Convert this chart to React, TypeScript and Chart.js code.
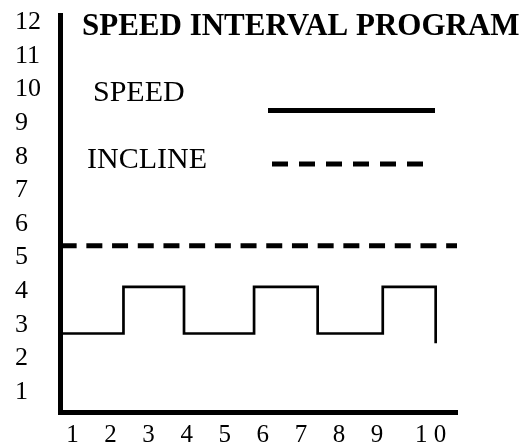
import React, { useEffect, useRef } from 'react';
import { Chart, registerables } from 'chart.js';

Chart.register(...registerables);

const titleText = 'SPEED INTERVAL PROGRAM';
const seriesNames = ['SPEED', 'INCLINE'];
const yTickValues = [1, 2, 3, 4, 5, 6, 7, 8, 9, 10, 11, 12];
const xTickValues = [1, 2, 3, 4, 5, 6, 7, 8, 9, 10];
const xTickLabels = ['1', '2', '3', '4', '5', '6', '7', '8', '9', '1 0'];
const speedX = [0.69, 2.34, 3.93, 5.77, 7.44, 9.15, 10.54];
const speedY = [2.74, 4.13, 2.74, 4.13, 2.74, 4.13, 2.45];
const inclineX = [0.69, 11.1];
const inclineY = [5.35, 5.35];

const X_MIN = 0.686;
const X_MAX = 11.1;
const Y_MIN = 0.39;
const Y_MAX = 12.2;

const FONT = '"Liberation Serif", "Times New Roman", serif';

const pictureLegend = {
  id: 'pictureLegend',
  afterDraw(chart: any) {
    const ctx = chart.ctx;
    ctx.save();
    ctx.fillStyle = '#000';
    ctx.textAlign = 'left';
    ctx.textBaseline = 'alphabetic';
    ctx.font = `bold 31px ${FONT}`;
    ctx.fillText(titleText, 82, 35);
    ctx.font = `30px ${FONT}`;
    ctx.fillText(seriesNames[0], 93, 101);
    ctx.fillText(seriesNames[1], 87, 168);
    ctx.strokeStyle = '#000';
    ctx.lineWidth = 5;
    ctx.lineCap = 'butt';
    ctx.beginPath();
    ctx.moveTo(268, 110.5);
    ctx.lineTo(435, 110.5);
    ctx.stroke();
    ctx.setLineDash([16, 11]);
    ctx.beginPath();
    ctx.moveTo(272, 164);
    ctx.lineTo(423, 164);
    ctx.stroke();
    ctx.restore();
  },
};

export default function App() {
  const ref = useRef<HTMLCanvasElement | null>(null);

  useEffect(() => {
    if (!ref.current) return;
    const chart = new Chart(ref.current, {
      type: 'line',
      data: {
        datasets: [
          {
            label: seriesNames[0],
            data: speedX.map((x, i) => ({ x, y: speedY[i] })),
            borderColor: '#000',
            borderWidth: 2.7,
            stepped: 'before',
            pointRadius: 0,
            fill: false,
          },
          {
            label: seriesNames[1],
            data: inclineX.map((x, i) => ({ x, y: inclineY[i] })),
            borderColor: '#000',
            borderWidth: 5,
            borderDash: [16, 9.7],
            borderCapStyle: 'butt',
            pointRadius: 0,
            fill: false,
          },
        ],
      },
      options: {
        responsive: false,
        animation: false,
        layout: { padding: { left: 15, top: 15, right: 70, bottom: 0 } },
        plugins: {
          legend: { display: false },
          tooltip: { enabled: false },
          title: { display: false },
        },
        scales: {
          x: {
            type: 'linear',
            min: X_MIN,
            max: X_MAX,
            grid: { display: false, drawTicks: false },
            border: { display: true, color: '#000', width: 5 },
            afterBuildTicks: (s: any) => {
              s.ticks = xTickValues.map((v) => ({ value: v }));
            },
            afterFit: (s: any) => {
              s.height = 32.5;
            },
            ticks: {
              autoSkip: false,
              maxRotation: 0,
              minRotation: 0,
              padding: 8,
              color: '#000',
              font: { family: FONT, size: 25 },
              callback: (_v: any, i: number) =>
                i === xTickLabels.length - 1 ? '     ' + xTickLabels[i] : xTickLabels[i],
            },
          },
          y: {
            type: 'linear',
            min: Y_MIN,
            max: Y_MAX,
            grid: { display: false, drawTicks: false },
            border: { display: true, color: '#000', width: 5 },
            afterBuildTicks: (s: any) => {
              s.ticks = yTickValues.map((v) => ({ value: v }));
            },
            afterFit: (s: any) => {
              s.width = 45.5;
            },
            ticks: {
              crossAlign: 'far',
              padding: 0,
              color: '#000',
              font: { family: FONT, size: 26 },
              callback: (v: any) => String(v),
            },
          },
        },
      },
      plugins: [pictureLegend],
    } as any);
    return () => chart.destroy();
  }, []);

  return (
    <div style={{ position: 'absolute', left: 0, top: 0, width: 527, height: 445, background: '#fff' }}>
      <canvas ref={ref} width={527} height={445} style={{ display: 'block', width: 527, height: 445 }} />
    </div>
  );
}
